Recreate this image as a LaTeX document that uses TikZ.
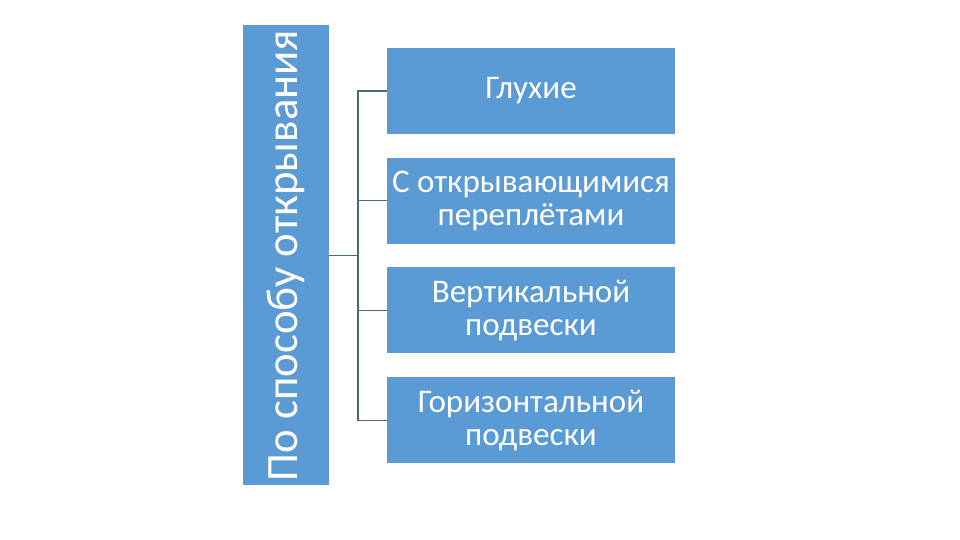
\documentclass[tikz,border=0pt]{standalone}
\usepackage{fontspec}
\setmainfont{Carlito}
\usepackage{xcolor}
\usepackage{tikz}
\usetikzlibrary{positioning}
\definecolor{boxblue}{HTML}{5B9BD5}
\definecolor{linkgrey}{HTML}{4A6878}
\tikzset{head/.style={
    fill=boxblue,
    text=white,
    minimum width=9.2cm,
    minimum height=1.72cm,
    inner sep=0pt,
    rotate=90,
    font=\fontsize{25.5}{28}\selectfont,
}}
\tikzset{item/.style={
    fill=boxblue,
    text=white,
    align=center,
    minimum width=5.76cm,
    minimum height=1.72cm,
    inner sep=0pt,
    font=\fontsize{18.8}{18.8}\selectfont,
}}
\tikzset{link/.style={
    draw=linkgrey,
    line width=0.6pt,
}}

\begin{document}
\begin{tikzpicture}[
                node distance=0.46cm
        ]
            \useasboundingbox (0,0) rectangle (19.2,10.8);
            \node[head] (head) at (5.72,5.69) {По способу открывания};

            \node[item] (solid) at (10.62,8.98) {Глухие};
            \node[item, below=of solid] (sash) {С открывающимися\\переплётами};
            \node[item, below=of sash] (vertical) {Вертикальной\\подвески};
            \node[item, below=of vertical] (horizontal) {Горизонтальной\\подвески};

            \coordinate (fork) at (7.16,5.69);
            \draw[link] (head.south) -- (fork);
            \foreach \b in {solid,sash,vertical,horizontal}
                \draw[link] (fork) |- (\b.west);

        \end{tikzpicture}
\end{document}
